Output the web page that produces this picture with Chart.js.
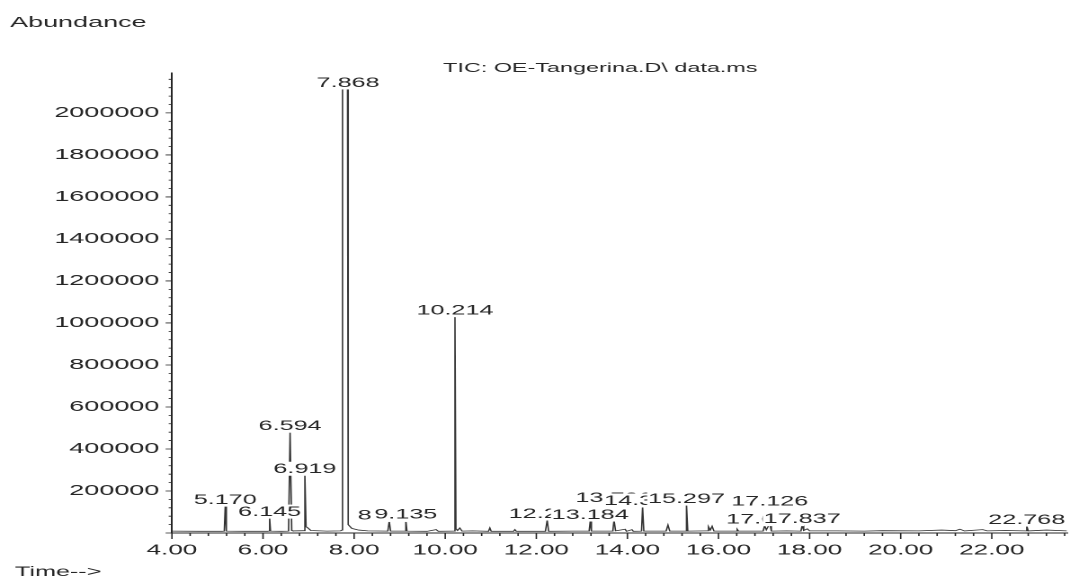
<!DOCTYPE html>
<html>
<head>
<meta charset="utf-8">
<script src="https://cdn.jsdelivr.net/npm/chart.js@4/dist/chart.umd.min.js"></script>
<style>
  html, body { margin: 0; padding: 0; background: #fff; overflow: hidden; }
  /* the scan is stretched sideways and soft, so the canvas is drawn narrow and widened */
  #wrap { position: absolute; left: 0; top: 0; width: 595px; height: 577px;
          transform: scaleX(1.7983); transform-origin: 0 0; filter: blur(0.35px); }
</style>
</head>
<body>
<div id="wrap"><canvas id="tic" width="595" height="577"></canvas></div>
<script>
// ---- TIC trace (retention time in min, abundance) ----
const TIMES = [
  4.00, 4.60, 5.10, 5.150, 5.170, 5.195, 5.60, 6.10, 6.130, 6.145, 6.165, 6.40,
  6.560, 6.594, 6.630, 6.66, 6.90, 6.919, 6.945, 6.98, 7.05, 7.40, 7.70,
  7.735, 7.745, 7.855, 7.870, 7.95, 8.10, 8.30, 8.740, 8.771, 8.800,
  9.110, 9.135, 9.160, 9.60, 9.80, 9.85, 10.190, 10.214, 10.235, 10.27, 10.32, 10.37,
  10.60, 10.95, 10.98, 11.01, 11.50, 11.53, 11.56, 12.20, 12.239, 12.27, 12.80,
  13.160, 13.184, 13.21, 13.68, 13.706, 13.74, 13.95, 13.98, 14.10, 14.13,
  14.310, 14.333, 14.360, 14.85, 14.89, 14.93, 15.270, 15.297, 15.325,
  15.75, 15.78, 15.82, 15.86, 15.90, 16.38, 16.41, 16.44, 16.98, 17.013, 17.05,
  17.126, 17.16, 17.50, 17.81, 17.837, 17.87, 17.95, 18.00, 18.60, 19.20, 19.60,
  20.40, 20.90, 21.20, 21.30, 21.40, 21.80, 21.90, 22.30, 22.740, 22.768, 22.80,
  23.20, 23.65
];
const ABUNDANCE = [
  9000, 8000, 8000, 9000, 128000, 9000, 8000, 8000, 9000, 71000, 9000, 8000,
  9000, 480000, 12000, 10000, 11000, 275000, 30000, 25000, 12000, 9000, 10000,
  14000, 2114000, 2114000, 40000, 22000, 14000, 10000, 9000, 55000, 9000,
  9000, 60000, 9000, 8000, 16000, 8000, 9000, 1030000, 20000, 12000, 24000, 9000,
  10000, 8000, 24000, 8000, 8000, 16000, 8000, 8000, 62000, 8000, 9000,
  9000, 57000, 9000, 9000, 62000, 10000, 18000, 8000, 16000, 8000,
  9000, 124000, 9000, 9000, 38000, 9000, 9000, 133000, 9000,
  10000, 30000, 14000, 32000, 9000, 9000, 18000, 9000, 9000, 35000, 15000,
  45000, 9000, 10000, 9000, 38000, 12000, 20000, 10000, 10000, 9000, 11000,
  10000, 14000, 11000, 18000, 10000, 16000, 10000, 12000, 10000, 33000, 10000,
  14000, 10000
];

// ---- peak labels (retention times printed by the integrator) ----
const PEAK_LABELS = [
  '5.170', '6.145', '6.594', '6.919', '7.868', '8.771', '9.135', '10.214',
  '12.239', '13.184', '13.706', '14.333', '15.297', '17.013', '17.126',
  '17.837', '22.768'
];
// labels pushed up one row because they sit on a neighbour
const LIFTED = ['13.706', '17.126'];

// ---- axes ----
const X_MIN = 4.0;
const X_MAX = 23.65;
const X_TICKS = [4, 6, 8, 10, 12, 14, 16, 18, 20, 22];
const Y_MAX = 2190000;
const Y_TICKS = [200000, 400000, 600000, 800000, 1000000, 1200000, 1400000,
  1600000, 1800000, 2000000];

const FONT = "'Liberation Sans', Arial, sans-serif";
const INK = '#262626';

const decorations = {
  id: 'decorations',
  afterDraw(chart) {
    const { ctx, scales: { x: xs, y: ys }, chartArea: ca } = chart;
    ctx.save();
    ctx.strokeStyle = INK;
    ctx.lineWidth = 0.8;

    // x ticks: major every 2 min, minor every 0.4 min
    ctx.beginPath();
    for (let i = 0; i <= Math.round((X_MAX - X_MIN) / 0.4); i++) {
      const v = X_MIN + i * 0.4;
      const px = xs.getPixelForValue(v);
      const major = Math.abs(v / 2 - Math.round(v / 2)) < 1e-6;
      ctx.moveTo(px, ca.bottom);
      ctx.lineTo(px, ca.bottom + (major ? 6 : 3));
    }
    // y ticks: major every 200000, minor every 40000
    for (let v = 0; v <= Y_MAX; v += 40000) {
      const py = ys.getPixelForValue(v);
      const major = v % 200000 === 0;
      ctx.moveTo(ca.left, py);
      ctx.lineTo(ca.left - (major ? 3.5 : 1.8), py);
    }
    ctx.stroke();

    // header / footer texts
    ctx.fillStyle = INK;
    ctx.textAlign = 'left';
    ctx.textBaseline = 'alphabetic';
    ctx.font = `15px ${FONT}`;
    ctx.fillText('Abundance', 5.6, 27);
    ctx.font = `13px ${FONT}`;
    ctx.fillText('TIC: OE-Tangerina.D\\ data.ms', 246.4, 72);
    ctx.font = `14px ${FONT}`;
    ctx.fillText('Time-->', 8.3, 576);

    // peak labels, each on a white patch that hides what is under it
    ctx.font = `14px ${FONT}`;
    ctx.textAlign = 'center';
    PEAK_LABELS.forEach((txt) => {
      const t = parseFloat(txt);
      let top = 0;
      TIMES.forEach((tt, i) => {
        if (Math.abs(tt - t) <= 0.05) top = Math.max(top, ABUNDANCE[i]);
      });
      const px = xs.getPixelForValue(t);
      const base = ys.getPixelForValue(top) - 2 - (LIFTED.includes(txt) ? 16 : 0);
      const w = ctx.measureText(txt).width;
      ctx.fillStyle = '#fff';
      ctx.fillRect(px - w / 2 - 0.5, base - 11.5, w + 1, 14);
      ctx.fillStyle = INK;
      ctx.fillText(txt, px, base);
    });
    ctx.restore();
  },
};

new Chart(document.getElementById('tic'), {
  type: 'line',
  data: {
    datasets: [{
      data: TIMES.map((t, i) => ({ x: t, y: ABUNDANCE[i] })),
      borderColor: '#333',
      borderWidth: 0.8,
      pointRadius: 0,
      tension: 0,
      fill: false,
    }],
  },
  options: {
    responsive: false,
    animation: false,
    devicePixelRatio: 2,
    layout: { padding: { top: 73, right: 1.7, left: 0, bottom: 0 } },
    plugins: { legend: { display: false }, tooltip: { enabled: false } },
    scales: {
      x: {
        type: 'linear',
        min: X_MIN,
        max: X_MAX,
        afterFit: (s) => { s.height = 44; },
        afterBuildTicks: (s) => { s.ticks = X_TICKS.map((v) => ({ value: v })); },
        ticks: {
          callback: (v) => Number(v).toFixed(2),
          font: { family: FONT, size: 14.5 },
          color: INK,
          padding: 9,
          maxRotation: 0,
          autoSkip: false,
        },
        grid: { display: false, drawTicks: false },
        border: { display: true, color: INK, width: 1 },
      },
      y: {
        min: 0,
        max: Y_MAX,
        afterFit: (s) => { s.width = 95.6; },
        afterBuildTicks: (s) => { s.ticks = Y_TICKS.map((v) => ({ value: v })); },
        ticks: {
          callback: (v) => String(v),
          font: { family: FONT, size: 15 },
          color: INK,
          padding: 7,
          autoSkip: false,
        },
        grid: { display: false, drawTicks: false },
        border: { display: true, color: INK, width: 1 },
      },
    },
  },
  plugins: [decorations],
});
</script>
</body>
</html>
